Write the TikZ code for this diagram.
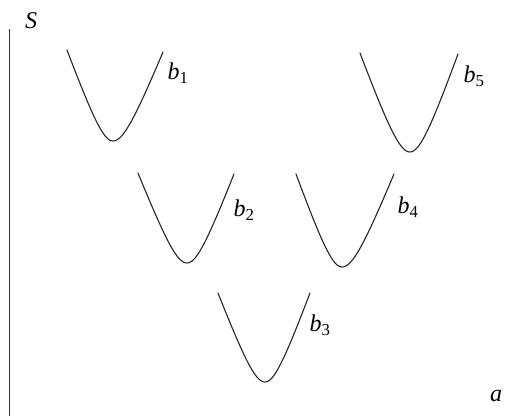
\documentclass[tikz,border=0pt]{standalone}
\usepackage{fontspec}
\setmainfont{Liberation Serif}
\tikzset{
  curve/.style={line width=1.1pt, draw=black!85, line join=round, line cap=round},
  axisline/.style={line width=0.8pt, draw=black!80},
  lab/.style={font=\fontsize{24}{26}\selectfont\itshape, inner sep=0pt}
}
\newcommand\vcurve[6]{%
  \draw[curve] plot[domain=1:0, samples=30, variable=\t]
    ({#3-(#3-(#1))*\t}, {#4+(#2-(#4))*(sqrt(\t*\t+0.12)-0.3464)/(sqrt(1.12)-0.3464)})
    -- plot[domain=0:1, samples=30, variable=\t]
    ({#3+(#5-(#3))*\t}, {#4+(#6-(#4))*(sqrt(\t*\t+0.12)-0.3464)/(sqrt(1.12)-0.3464)});
}
\begin{document}
\begin{tikzpicture}[x=1pt, y=-1pt]
\useasboundingbox (0,0) rectangle (506,418);
\coordinate (axtop) at (9.5,29);
\coordinate (axbot) at (9.5,416);
\draw[axisline] (axtop) -- (axbot);
\node[lab] (S) at (31,21) {S};
\node[lab] (a) at (496,396) {a};
\vcurve{67}{50}{113}{141}{163}{52}
\vcurve{360}{53}{410}{152}{458}{54}
\vcurve{138}{173}{187}{263}{234}{174}
\vcurve{296}{174}{342}{267}{394}{174}
\vcurve{218}{293}{265}{382}{310}{293}
\node[lab] (b1) at (178,73) {b\textsubscript{\upshape 1}};
\node[lab] (b5) at (474,76) {b\textsubscript{\upshape 5}};
\node[lab] (b2) at (244,210) {b\textsubscript{\upshape 2}};
\node[lab] (b4) at (408,207) {b\textsubscript{\upshape 4}};
\node[lab] (b3) at (320,325) {b\textsubscript{\upshape 3}};
\end{tikzpicture}
\end{document}
